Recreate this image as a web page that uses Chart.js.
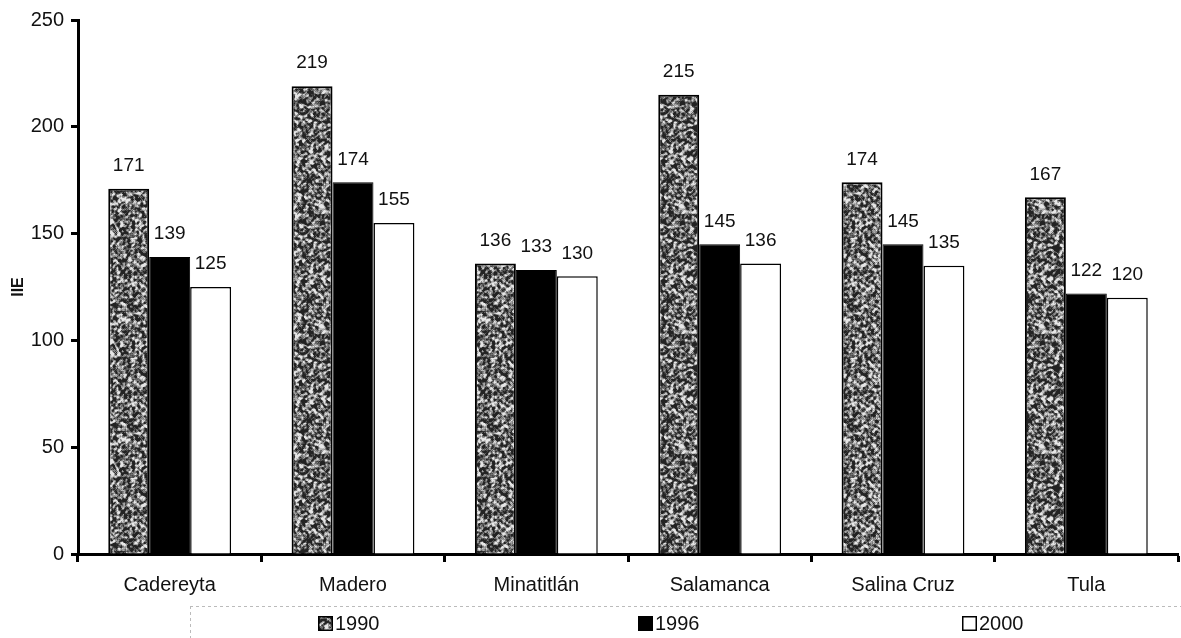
<!DOCTYPE html>
<html>
<head>
<meta charset="utf-8">
<script src="https://cdn.jsdelivr.net/npm/chart.js@4.4.1/dist/chart.umd.min.js"></script>
<style>
  html, body { margin: 0; padding: 0; background: #fff; }
  #wrap { width: 1181px; height: 638px; position: relative; }
</style>
</head>
<body>
<div id="wrap"><canvas id="c" width="1181" height="638"></canvas></div>
<script>
// Refineries and their index values per year
const categories = ['Cadereyta', 'Madero', 'Minatitlán', 'Salamanca', 'Salina Cruz', 'Tula'];
const seriesNames = ['1990', '1996', '2000'];
const values1990 = [171, 219, 136, 215, 174, 167];
const values1996 = [139, 174, 133, 145, 145, 122];
const values2000 = [125, 155, 130, 136, 135, 120];
const yTicks = [0, 50, 100, 150, 200, 250];
const yTitle = 'IIE';

const FONT = "'Liberation Sans', Arial, sans-serif";

// Speckled grey fill: fine grain from a fixed-seed LCG so every render is identical
function speckle() {
  const size = 120, cell = 1, n = size / cell;
  const cv = document.createElement('canvas');
  cv.width = size; cv.height = size;
  const g = cv.getContext('2d');
  let s = 987654;
  const rnd = () => { s = (s * 1103515245 + 12345) & 0x7fffffff; return s / 0x7fffffff; };
  const grid = [];
  for (let i = 0; i < n * n; i++) grid.push(rnd());
  for (let y = 0; y < n; y++) {
    for (let x = 0; x < n; x++) {
      // light blur over neighbours to form small clumps
      let sum = 0, k = 0;
      for (let dy = -1; dy <= 1; dy++) for (let dx = -1; dx <= 1; dx++) {
        const w = (dx === 0 && dy === 0) ? 2 : 1;
        sum += grid[((y + dy + n) % n) * n + ((x + dx + n) % n)] * w; k += w;
      }
      const t = sum / k;
      let v = Math.round(255 * ((t - 0.5) * 3.0 + 0.44));
      v = Math.max(35, Math.min(230, v));
      g.fillStyle = `rgb(${v},${v},${v})`;
      g.fillRect(x * cell, y * cell, cell, cell);
    }
  }
  return g.createPattern(cv, 'repeat');
}

const ctx = document.getElementById('c').getContext('2d');
const greyPattern = speckle();

// Value labels above each bar
const valueLabels = {
  id: 'valueLabels',
  afterDatasetsDraw(chart) {
    const c = chart.ctx;
    c.save();
    c.font = '19px ' + FONT;
    c.fillStyle = '#111';
    c.textAlign = 'center';
    c.textBaseline = 'middle';
    chart.data.datasets.forEach((ds, i) => {
      chart.getDatasetMeta(i).data.forEach((bar, j) => {
        c.fillText(String(ds.data[j]), bar.x, bar.y - 23);
      });
    });
    c.restore();
  }
};

// Legend row along the bottom, with its faint dotted frame
const bottomLegend = {
  id: 'bottomLegend',
  afterDraw(chart) {
    const c = chart.ctx;
    c.save();
    c.strokeStyle = '#bbb';
    c.lineWidth = 1;
    c.setLineDash([3, 3]);
    c.beginPath();
    c.moveTo(190, 606.5); c.lineTo(1181, 606.5);
    c.moveTo(190.5, 606); c.lineTo(190.5, 638);
    c.stroke();
    c.setLineDash([]);
    const xs = [318, 638, 962];
    const y = 623;
    c.font = '20px ' + FONT;
    c.textBaseline = 'middle';
    c.textAlign = 'left';
    chart.data.datasets.forEach((ds, i) => {
      const x = xs[i];
      c.fillStyle = ds.backgroundColor;
      c.fillRect(x, y - 7, 15, 15);
      c.strokeStyle = '#000';
      c.lineWidth = 1.5;
      c.strokeRect(x + 0.75, y - 6.25, 13.5, 13.5);
      c.fillStyle = '#111';
      c.fillText(ds.label, x + 17, y + 1);
    });
    c.restore();
  }
};

new Chart(ctx, {
  type: 'bar',
  data: {
    labels: categories,
    datasets: [
      { label: seriesNames[0], data: values1990, backgroundColor: greyPattern, borderColor: '#000', borderWidth: 2 },
      { label: seriesNames[1], data: values1996, backgroundColor: '#000', borderColor: '#000', borderWidth: 1 },
      { label: seriesNames[2], data: values2000, backgroundColor: '#fff', borderColor: '#000', borderWidth: 1.5 }
    ]
  },
  options: {
    responsive: false,
    animation: false,
    devicePixelRatio: 1,
    layout: { padding: { top: 20, right: 3, bottom: 0, left: 0 } },
    datasets: { bar: { categoryPercentage: 0.67, barPercentage: 1.0, borderSkipped: 'start' } },
    plugins: { legend: { display: false }, tooltip: { enabled: false } },
    scales: {
      x: {
        grid: { drawOnChartArea: false, drawTicks: true, tickLength: 8, tickWidth: 3, tickColor: '#000', offset: true },
        border: { color: '#000', width: 3 },
        ticks: { color: '#111', font: { family: FONT, size: 20 }, padding: 11, maxRotation: 0 },
        afterFit(scale) { scale.height = 84; }
      },
      y: {
        min: 0, max: 250,
        afterBuildTicks(scale) { scale.ticks = yTicks.map(v => ({ value: v })); },
        grid: { drawOnChartArea: false, drawTicks: true, tickLength: 7, tickWidth: 3, tickColor: '#000' },
        border: { color: '#000', width: 3 },
        ticks: { color: '#111', font: { family: FONT, size: 20 }, padding: 7 },
        title: { display: true, text: yTitle, color: '#111', font: { family: FONT, size: 16, weight: 'bold' }, padding: { top: 9, bottom: 0 } },
        afterFit(scale) { scale.width = 78; }
      }
    }
  },
  plugins: [valueLabels, bottomLegend]
});
</script>
</body>
</html>
